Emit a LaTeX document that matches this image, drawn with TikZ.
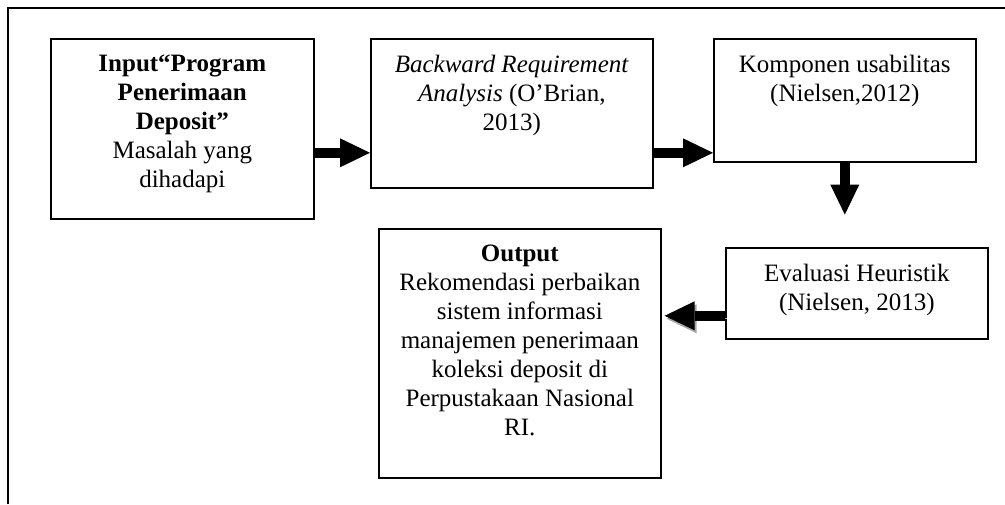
\documentclass[tikz,border=0pt]{standalone}
\usepackage{fontspec}
\setmainfont{Liberation Serif}
\usetikzlibrary{arrows.meta}

% text set at the top of a box of fixed size
\newcommand{\boxtxt}[3]{\parbox[c][#2][t]{#1}{\centering\vspace*{8pt}#3}}

\begin{document}
\begin{tikzpicture}[
  box/.style={draw, line width=0.8pt, inner sep=0pt, anchor=north west,
              font=\fontsize{12.5}{14.5}\selectfont},
  blk/.style={line width=4.8pt, -{Triangle[length=15pt,width=14.5pt,line width=0pt]}},
  blkshade/.style={blk, preaction={draw=gray!70, transform canvas={shift={(1pt,-1.5pt)}}}},
]
\useasboundingbox (0,0) rectangle (502.5pt,-252pt);

% outer frame
\draw[line width=1pt] (4pt,-252pt) -- (4pt,-4pt) -- (502.5pt,-4pt);

\node[box] (input) at (25pt,-19pt) {\boxtxt{131.5pt}{90pt}{%
  \textbf{Input“Program}\\ \textbf{Penerimaan}\\ \textbf{Deposit”}\\
  Masalah yang\\ dihadapi}};

\node[box] (bra) at (185pt,-19pt) {\boxtxt{141pt}{74.5pt}{%
  \textit{Backward Requirement}\\ \textit{Analysis} (O’Brian,\\ 2013)}};

\node[box] (kom) at (356.5pt,-19pt) {\boxtxt{131pt}{61.5pt}{%
  Komponen usabilitas\\ (Nielsen,2012)}};

\node[box] (eval) at (362.5pt,-123.5pt) {\boxtxt{131pt}{45.5pt}{%
  Evaluasi Heuristik\\ (Nielsen, 2013)}};

\node[box] (out) at (189pt,-114pt) {\boxtxt{141pt}{124.5pt}{%
  \textbf{Output}\\ Rekomendasi perbaikan\\ sistem informasi\\
  manajemen penerimaan\\ koleksi deposit di\\ Perpustakaan Nasional\\ RI.}};

% arrows
\coordinate (a1) at ([yshift=-12pt]input.east);
\coordinate (a2) at (a1 -| bra.east);
\coordinate (a3) at ([yshift=-26pt]kom.south);
\coordinate (a4) at ([yshift=-11.25pt]eval.west);
\coordinate (b4) at ([xshift=1.5pt]a4 -| out.east);

\draw[blk] (a1) -- (a1 -| bra.west);
\draw[blk] (a2) -- (a2 -| kom.west);
\draw[blk] (kom.south) -- (a3);
\draw[blkshade] (a4) -- (b4);

\end{tikzpicture}
\end{document}
